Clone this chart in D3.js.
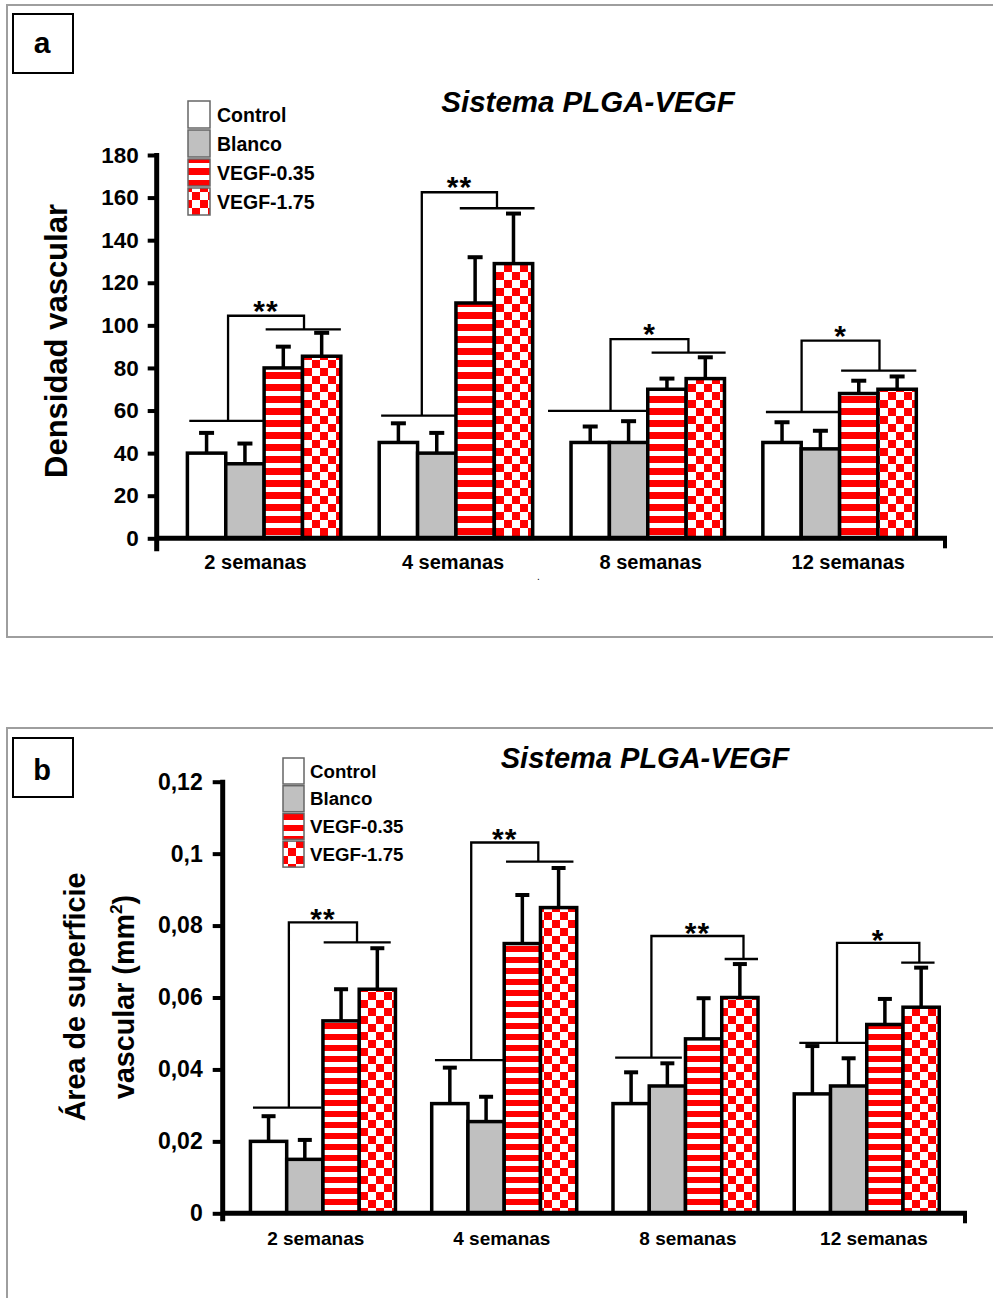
<!DOCTYPE html>
<html>
<head>
<meta charset="utf-8">
<script src="https://cdn.jsdelivr.net/npm/d3@7"></script>
<style>
  body { margin: 0; background: #fff; }
  svg { display: block; }
</style>
</head>
<body>
<svg id="chart" width="993" height="1298"></svg>
<script>
// ---- data ----
const categories = ["2 semanas", "4 semanas", "8 semanas", "12 semanas"];
const seriesNames = ["Control", "Blanco", "VEGF-0.35", "VEGF-1.75"];

// (a) vascular density: means and upper error (SD) per week, per group
const densityMeans = [
  [40, 35, 80, 85.5],
  [45, 40, 110.5, 129],
  [45, 45, 70, 75],
  [45, 42, 68, 70]
];
const densityErrors = [
  [9.5, 9.5, 10, 11],
  [9, 9.5, 21.5, 23.5],
  [7.5, 10, 5, 10],
  [9.5, 8.5, 6, 6]
];
const densityTicks = [0, 20, 40, 60, 80, 100, 120, 140, 160, 180];
// significance brackets: [controls line, top, treated line] levels
const densityBrackets = [
  [55.1, 104.5, 98.1],
  [57.6, 162.5, 155],
  [59.8, 93.5, 87.2],
  [59.3, 92.8, 78.7]
];
const densityStars = ["**", "**", "*", "*"];

// (b) vascular surface area (mm²)
const areaMeans = [
  [0.020, 0.015, 0.0535, 0.0623],
  [0.0305, 0.0255, 0.075, 0.085],
  [0.0305, 0.0354, 0.0485, 0.060],
  [0.0332, 0.0354, 0.0525, 0.0573]
];
const areaErrors = [
  [0.007, 0.0054, 0.0088, 0.0114],
  [0.010, 0.0069, 0.0135, 0.011],
  [0.0087, 0.0063, 0.0113, 0.0093],
  [0.0133, 0.0077, 0.0071, 0.011]
];
const areaTicks = [0, 0.02, 0.04, 0.06, 0.08, 0.1, 0.12];
const areaBrackets = [
  [0.0294, 0.0809, 0.0753],
  [0.0426, 0.1031, 0.0978],
  [0.0433, 0.0771, 0.0707],
  [0.0474, 0.0752, 0.0697]
];
const areaStars = ["**", "**", "**", "*"];

// ---- drawing ----
const FONT = "'Liberation Sans', Arial, Helvetica, sans-serif";
const svg = d3.select("#chart");
const defs = svg.append("defs");

function makePatterns(id, stripe, cell) {
  const s = defs.append("pattern").attr("id", "stripes-" + id)
    .attr("patternUnits", "userSpaceOnUse").attr("width", 8).attr("height", stripe);
  s.append("rect").attr("width", 8).attr("height", stripe).attr("fill", "#fff");
  s.append("rect").attr("width", 8).attr("height", Math.round(stripe * 0.55)).attr("fill", "#ff0000");
  const c = defs.append("pattern").attr("id", "checks-" + id)
    .attr("patternUnits", "userSpaceOnUse").attr("width", cell * 2).attr("height", cell * 2);
  c.append("rect").attr("width", cell * 2).attr("height", cell * 2).attr("fill", "#fff");
  c.append("rect").attr("width", cell).attr("height", cell).attr("fill", "#ff0000");
  c.append("rect").attr("x", cell).attr("y", cell).attr("width", cell).attr("height", cell).attr("fill", "#ff0000");
}

const commaFormat = d3.formatLocale({ decimal: ",", thousands: ".", grouping: [3], currency: ["", ""] }).format("~g");

function drawPanel(p) {
  makePatterns(p.id, p.stripe, p.cell);
  const g = svg.append("g").attr("font-family", FONT).attr("font-weight", "bold");
  const fills = ["#ffffff", "#c0c0c0", `url(#stripes-${p.id})`, `url(#checks-${p.id})`];

  // panel frame and letter box
  g.append("rect").attr("x", p.frame[0]).attr("y", p.frame[1])
    .attr("width", p.frame[2]).attr("height", p.frame[3])
    .attr("fill", "none").attr("stroke", "#9e9e9e").attr("stroke-width", 2);
  g.append("rect").attr("x", p.box[0]).attr("y", p.box[1])
    .attr("width", p.box[2]).attr("height", p.box[3])
    .attr("fill", "#fff").attr("stroke", "#000").attr("stroke-width", 2);
  g.append("text").attr("x", p.box[0] + p.box[2] / 2 - 1).attr("y", p.letterY)
    .attr("text-anchor", "middle").attr("font-size", p.letterSize).text(p.letter);

  // title
  g.append("text").attr("x", p.titleX).attr("y", p.titleY).attr("text-anchor", "middle")
    .attr("font-size", p.titleSize).attr("font-style", "italic").text("Sistema PLGA-VEGF");

  // scales
  const y = d3.scaleLinear().domain([0, d3.max(p.ticks)]).range(p.yRange);
  const x = d3.scaleBand().domain(categories).range(p.xRange).paddingInner(0.2).paddingOuter(p.outer);
  const xs = d3.scaleBand().domain(seriesNames).range([0, x.bandwidth()]);
  const xl = d3.scaleBand().domain(categories).range(p.xRange);
  const bw = xs.bandwidth();

  // bars
  const rows = [];
  categories.forEach((c, i) => seriesNames.forEach((s, j) => rows.push({ c, i, s, j, v: p.means[i][j], e: p.errors[i][j] })));
  g.append("g").selectAll("rect").data(rows).join("rect")
    .attr("x", d => x(d.c) + xs(d.s))
    .attr("y", d => y(d.v))
    .attr("width", bw)
    .attr("height", d => y(0) - y(d.v))
    .attr("fill", d => fills[d.j])
    .attr("stroke", "#000").attr("stroke-width", 3.5);

  // error bars (upper only)
  const eb = g.append("g").attr("stroke", "#000");
  eb.selectAll("line.stem").data(rows).join("line").attr("class", "stem")
    .attr("x1", d => x(d.c) + xs(d.s) + bw / 2).attr("x2", d => x(d.c) + xs(d.s) + bw / 2)
    .attr("y1", d => y(d.v)).attr("y2", d => y(d.v + d.e)).attr("stroke-width", 3.5);
  eb.selectAll("line.cap").data(rows).join("line").attr("class", "cap")
    .attr("x1", d => x(d.c) + xs(d.s) + bw / 2 - p.capW / 2).attr("x2", d => x(d.c) + xs(d.s) + bw / 2 + p.capW / 2)
    .attr("y1", d => y(d.v + d.e)).attr("y2", d => y(d.v + d.e)).attr("stroke-width", 4);

  // significance brackets
  const bg = g.append("g");
  categories.forEach((c, i) => {
    const [lowV, topV, upV] = p.brackets[i];
    const sp = p.spans[i];
    const ux = u => x(c) + u * bw;
    const path = d3.path();
    path.moveTo(ux(sp.lo[0]), y(lowV)); path.lineTo(ux(sp.lo[1]), y(lowV));
    path.moveTo(ux(sp.ls), y(lowV)); path.lineTo(ux(sp.ls), y(topV));
    path.lineTo(ux(sp.hs), y(topV)); path.lineTo(ux(sp.hs), y(upV));
    path.moveTo(ux(sp.hi[0]), y(upV)); path.lineTo(ux(sp.hi[1]), y(upV));
    bg.append("path").attr("d", path.toString()).attr("fill", "none")
      .attr("stroke", "#000").attr("stroke-width", 2.3);
    bg.append("text").attr("x", (ux(sp.ls) + ux(sp.hs)) / 2).attr("y", y(topV) + p.starDy)
      .attr("text-anchor", "middle").attr("font-size", p.starSize)
      .attr("letter-spacing", 1).text(p.stars[i]);
  });

  // y axis ticks and labels
  const ya = g.append("g").attr("transform", `translate(${p.xRange[0]},0)`)
    .call(d3.axisLeft(y).tickValues(p.ticks).tickSize(p.tickLen).tickSizeOuter(0)
      .tickPadding(p.tickPad).tickFormat(p.fmt));
  ya.select(".domain").remove();
  ya.attr("font-family", FONT).attr("font-size", p.tickSize).attr("font-weight", "bold");
  ya.selectAll(".tick line").attr("stroke", "#000").attr("stroke-width", 4);
  ya.selectAll(".tick text").attr("fill", "#000");

  // category labels
  const xa = g.append("g").attr("transform", `translate(0,${y(0)})`)
    .call(d3.axisBottom(xl).tickSize(0).tickPadding(0));
  xa.select(".domain").remove();
  xa.attr("font-family", FONT).attr("font-size", p.catSize).attr("font-weight", "bold");
  xa.selectAll(".tick text").attr("dy", null).attr("y", p.catDy).attr("fill", "#000");

  // axis spines
  g.append("line").attr("x1", p.xRange[0]).attr("x2", p.xRange[0])
    .attr("y1", y(d3.max(p.ticks)) - 2).attr("y2", y(0) + p.spineExt)
    .attr("stroke", "#000").attr("stroke-width", 5);
  g.append("line").attr("x1", p.xRange[0]).attr("x2", p.xRange[1])
    .attr("y1", y(0)).attr("y2", y(0)).attr("stroke", "#000").attr("stroke-width", 5);
  g.append("line").attr("x1", p.xRange[1] - 2).attr("x2", p.xRange[1] - 2)
    .attr("y1", y(0)).attr("y2", y(0) + 10).attr("stroke", "#000").attr("stroke-width", 4);

  // axis title
  p.yTitle.forEach(t => {
    const tx = g.append("text").attr("transform", `translate(${t.x},${p.yTitleY}) rotate(-90)`)
      .attr("text-anchor", "middle").attr("font-size", p.yTitleSize);
    tx.append("tspan").text(t.text);
    if (t.sup) {
      tx.append("tspan").attr("font-size", p.yTitleSize * 0.6).attr("dy", -p.yTitleSize * 0.42).text(t.sup);
      tx.append("tspan").attr("dy", p.yTitleSize * 0.42).text(t.after);
    }
  });

  // legend
  const lg = g.append("g");
  seriesNames.forEach((s, j) => {
    const ly = p.legY + j * p.legStep;
    lg.append("rect").attr("x", p.legX).attr("y", ly).attr("width", p.legW).attr("height", p.legH)
      .attr("fill", fills[j]).attr("stroke", "#666").attr("stroke-width", 1.5);
    lg.append("text").attr("x", p.legX + p.legW + p.legGap).attr("y", ly + p.legH / 2 + p.legSize * 0.36)
      .attr("font-size", p.legSize).text(s);
  });

  return { x, y };
}

const spansA = [
  { lo: [0.05, 1.97], ls: 1.06, hi: [2.04, 4.0], hs: 3.04 },
  { lo: [0.05, 2.0], ls: 1.11, hi: [2.1, 4.05], hs: 3.07 },
  { lo: [-0.6, 2.03], ls: 1.03, hi: [2.1, 4.03], hs: 3.06 },
  { lo: [0.08, 2.0], ls: 1.01, hi: [2.04, 4.0], hs: 3.04 }
];
const spansB = [
  { lo: [0.07, 1.96], ls: 1.06, hi: [2.02, 3.87], hs: 2.94 },
  { lo: [0.09, 1.97], ls: 1.09, hi: [2.05, 3.91], hs: 2.94 },
  { lo: [0.06, 1.9], ls: 1.06, hi: [3.08, 4.0], hs: 3.6 },
  { lo: [0.14, 2.0], ls: 1.18, hi: [2.95, 3.87], hs: 3.45 }
];

drawPanel({
  id: "a", frame: [7, 5, 1000, 632], box: [13, 14, 60, 59], letter: "a", letterSize: 30, letterY: 53,
  titleX: 588, titleY: 112, titleSize: 29.5,
  means: densityMeans, errors: densityErrors, ticks: densityTicks, fmt: d3.format("d"),
  brackets: densityBrackets, spans: spansA, stars: densityStars, starSize: 30, starDy: 5,
  yRange: [538.3, 155], xRange: [156.7, 947], outer: 0.16,
  tickLen: 9, tickPad: 9, tickSize: 22.5, catSize: 20, catDy: 31, spineExt: 13, capW: 15,
  stripe: 12, cell: 8,
  yTitle: [{ x: 67, text: "Densidad vascular" }], yTitleY: 341, yTitleSize: 31,
  legX: 188, legY: 101, legW: 22, legH: 27, legStep: 29, legGap: 7, legSize: 19.5
});

drawPanel({
  id: "b", frame: [7, 728, 1000, 600], box: [13, 738, 60, 59], letter: "b", letterSize: 29, letterY: 779.5,
  titleX: 645, titleY: 768, titleSize: 29,
  means: areaMeans, errors: areaErrors, ticks: areaTicks, fmt: commaFormat,
  brackets: areaBrackets, spans: spansB, stars: areaStars, starSize: 30, starDy: 7,
  yRange: [1213.3, 781.7], xRange: [222.7, 967], outer: 0.153,
  tickLen: 10, tickPad: 10, tickSize: 23, catSize: 19, catDy: 32, spineExt: 8, capW: 14,
  stripe: 11, cell: 8,
  yTitle: [{ x: 85, text: "Área de superficie" }, { x: 134, text: "vascular (mm", sup: "2", after: ")" }],
  yTitleY: 997, yTitleSize: 28.7,
  legX: 283, legY: 758, legW: 21, legH: 26, legStep: 27.7, legGap: 6, legSize: 18.7
});

// stray mark below the first panel's axis
svg.append("text").attr("x", 537).attr("y", 580).attr("font-family", FONT)
  .attr("font-size", 10).attr("fill", "#000").text(".");
</script>
</body>
</html>
